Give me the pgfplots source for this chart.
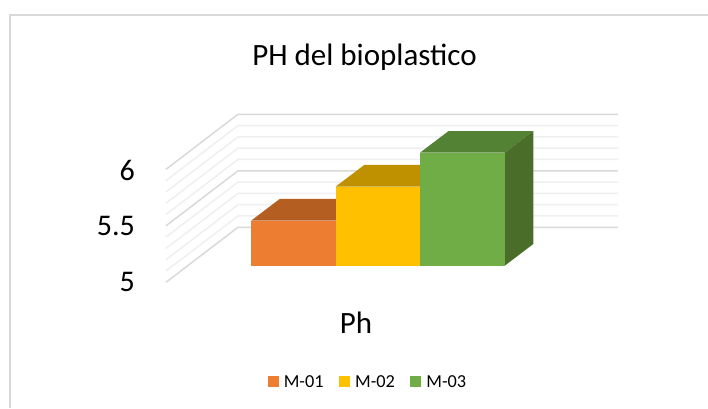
\documentclass[border=0pt]{standalone}
\usepackage{fontspec}
\setmainfont{Carlito}
\usepackage{pgfplots}
\pgfplotsset{compat=1.18}
\definecolor{orangeF}{HTML}{ED7D31}
\definecolor{orangeT}{HTML}{B55E22}
\definecolor{yellowF}{HTML}{FFC000}
\definecolor{yellowT}{HTML}{BF9000}
\definecolor{greenF}{HTML}{70AD47}
\definecolor{greenT}{HTML}{548235}
\definecolor{greenS}{HTML}{4A6E2A}
\definecolor{gridA}{HTML}{D9D9D9}
\definecolor{gridB}{HTML}{EFEFEF}
\begin{document}
\begin{tikzpicture}
\path[use as bounding box] (0,0) rectangle (708pt,408pt);
\begin{axis}[
  at={(0,0)}, anchor=south west,
  scale only axis, width=708pt, height=408pt,
  xmin=0, xmax=708, ymin=3.7407, ymax=7.3513,
  hide axis,
  legend columns=3,
  legend style={at={(axis cs:368,3.971)}, anchor=center, draw=none, fill=none,
    font=\fontsize{18.3}{20}\selectfont, inner sep=0pt,
    /tikz/every even column/.style={column sep=13.5pt}},
  legend image code/.code={\path (0pt,0pt) -- (14pt,0pt); \fill[#1] (0pt,-5.5pt) rectangle (11pt,5.5pt);},
]
% chart-area border
\addplot[forget plot, gridA, line width=2pt] coordinates {(9.8,3.7407) (9.8,7.222) (708,7.222)};
% wall and floor gridlines, from 5 to 6 by 0.1
\addplot[forget plot, gridA, line width=1.5pt] coordinates {(166,4.853) (238,5.340) (618,5.340)};
\addplot[forget plot, gridB, line width=1.5pt] coordinates {(166,4.953) (238,5.440) (618,5.440)};
\addplot[forget plot, gridB, line width=1.5pt] coordinates {(166,5.053) (238,5.540) (618,5.540)};
\addplot[forget plot, gridB, line width=1.5pt] coordinates {(166,5.153) (238,5.640) (618,5.640)};
\addplot[forget plot, gridB, line width=1.5pt] coordinates {(166,5.253) (238,5.740) (618,5.740)};
\addplot[forget plot, gridA, line width=1.5pt] coordinates {(166,5.353) (238,5.840) (618,5.840)};
\addplot[forget plot, gridB, line width=1.5pt] coordinates {(166,5.453) (238,5.940) (618,5.940)};
\addplot[forget plot, gridB, line width=1.5pt] coordinates {(166,5.553) (238,6.040) (618,6.040)};
\addplot[forget plot, gridB, line width=1.5pt] coordinates {(166,5.653) (238,6.140) (618,6.140)};
\addplot[forget plot, gridB, line width=1.5pt] coordinates {(166,5.753) (238,6.240) (618,6.240)};
\addplot[forget plot, gridA, line width=1.5pt] coordinates {(166,5.853) (238,6.340) (618,6.340)};
% M-01 = 5.4
\addplot[forget plot, fill=orangeT, draw=none] coordinates {(251.3,5.4) (279.9,5.592) (364.3,5.592) (335.7,5.4)} -- cycle;
\addplot[fill=orangeF, draw=none] coordinates {(251.3,5) (251.3,5.4) (335.7,5.4) (335.7,5)} -- cycle;
\addlegendentry{M-01}
% M-02 = 5.7
\addplot[forget plot, fill=yellowT, draw=none] coordinates {(335.7,5.7) (364.3,5.892) (448.6,5.892) (420,5.7)} -- cycle;
\addplot[fill=yellowF, draw=none] coordinates {(335.7,5) (335.7,5.7) (420,5.7) (420,5)} -- cycle;
\addlegendentry{M-02}
% M-03 = 6
\addplot[forget plot, fill=greenT, draw=none] coordinates {(420,6) (448.6,6.192) (533.3,6.192) (504.7,6)} -- cycle;
\addplot[forget plot, fill=greenS, draw=none] coordinates {(504.7,5) (533.3,5.192) (533.3,6.192) (504.7,6)} -- cycle;
\addplot[fill=greenF, draw=none] coordinates {(420,5) (420,6) (504.7,6) (504.7,5)} -- cycle;
\addlegendentry{M-03}
% text
\node at (axis cs:364.5,6.843) {\fontsize{31}{34}\selectfont PH del bioplastico};
\node[anchor=east, inner sep=0pt] at (axis cs:135,5.846) {\fontsize{30}{32}\selectfont 6};
\node[anchor=east, inner sep=0pt] at (axis cs:135,5.351) {\fontsize{30}{32}\selectfont 5.5};
\node[anchor=east, inner sep=0pt] at (axis cs:135,4.856) {\fontsize{30}{32}\selectfont 5};
\node at (axis cs:356,4.493) {\fontsize{31}{34}\selectfont Ph};
\end{axis}
\end{tikzpicture}
\end{document}
